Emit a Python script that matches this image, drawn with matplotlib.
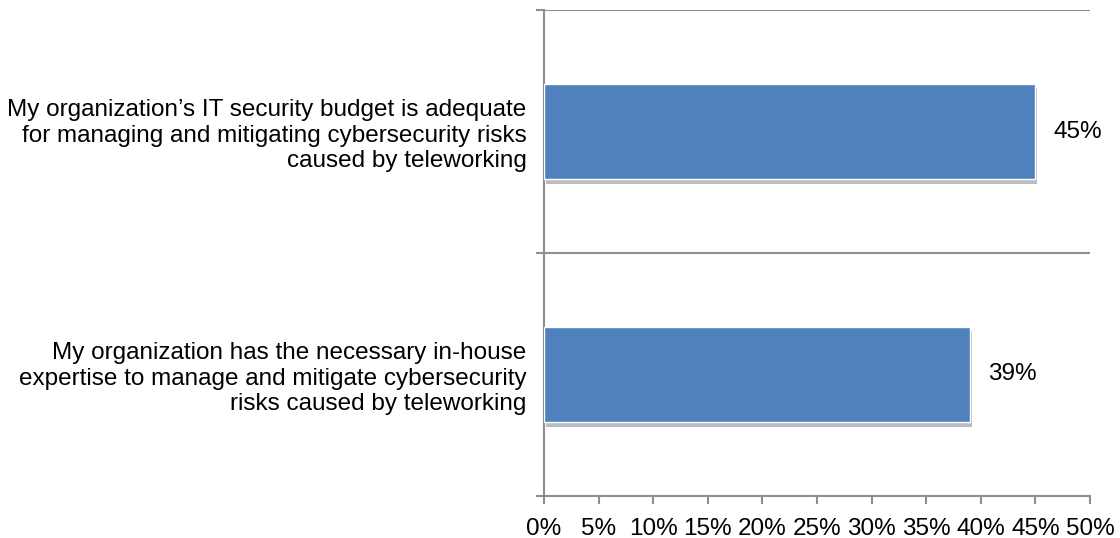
import matplotlib.pyplot as plt
import matplotlib.patheffects as pe

categories = [
    "My organization\u2019s IT security budget is adequate\nfor managing and mitigating cybersecurity risks\ncaused by teleworking",
    "My organization has the necessary in-house\nexpertise to manage and mitigate cybersecurity\nrisks caused by teleworking",
]
values = [45, 39]
value_labels = ["45%", "39%"]
xticks = [0, 5, 10, 15, 20, 25, 30, 35, 40, 45, 50]

plt.rcParams['font.family'] = ['Liberation Sans', 'DejaVu Sans']
fs = 17.5

fig = plt.figure(figsize=(11.2, 5.38), dpi=100)
ax = fig.add_axes([544 / 1120, 1 - 496 / 538, (1090 - 544) / 1120, (496 - 10) / 538])

grey = '#8e8e8e'
pos = list(range(len(categories)))
bars = ax.barh(pos, values, height=0.395, color='#4f81bd', edgecolor='white', linewidth=1.0,
               zorder=3)
for b in bars:
    b.set_path_effects([pe.SimplePatchShadow(offset=(1.5, -3), alpha=0.3), pe.Normal()])

for p, v, t in zip(pos, values, value_labels):
    ax.text(v + 1.7, p, t, va='center', ha='left', fontsize=fs, color='black')

ax.set_xlim(0, 50)
ax.set_ylim(len(categories) - 0.5, -0.5)

ax.set_xticks(xticks)
ax.set_xticklabels([f"{x}%" for x in xticks], fontsize=fs)

# category boundaries as major ticks + gridlines, labels on minor ticks
ax.set_yticks([i - 0.5 for i in range(len(categories) + 1)])
ax.set_yticklabels([])
ax.set_yticks(pos, minor=True)
ax.set_yticklabels(categories, minor=True, fontsize=fs, ha='right', linespacing=1.2)
ax.tick_params(axis='y', which='minor', length=0, pad=12.5)
ax.tick_params(axis='y', which='major', length=6, width=1.5, color=grey)
ax.tick_params(axis='x', length=6, width=1.5, color=grey, pad=10)
ax.grid(axis='y', which='major', color=grey, linewidth=1.5, zorder=0)

for s in ['top', 'right']:
    ax.spines[s].set_visible(False)
for s in ['left', 'bottom']:
    ax.spines[s].set_color(grey)
    ax.spines[s].set_linewidth(1.5)

fig.savefig('out.png', dpi=100)
